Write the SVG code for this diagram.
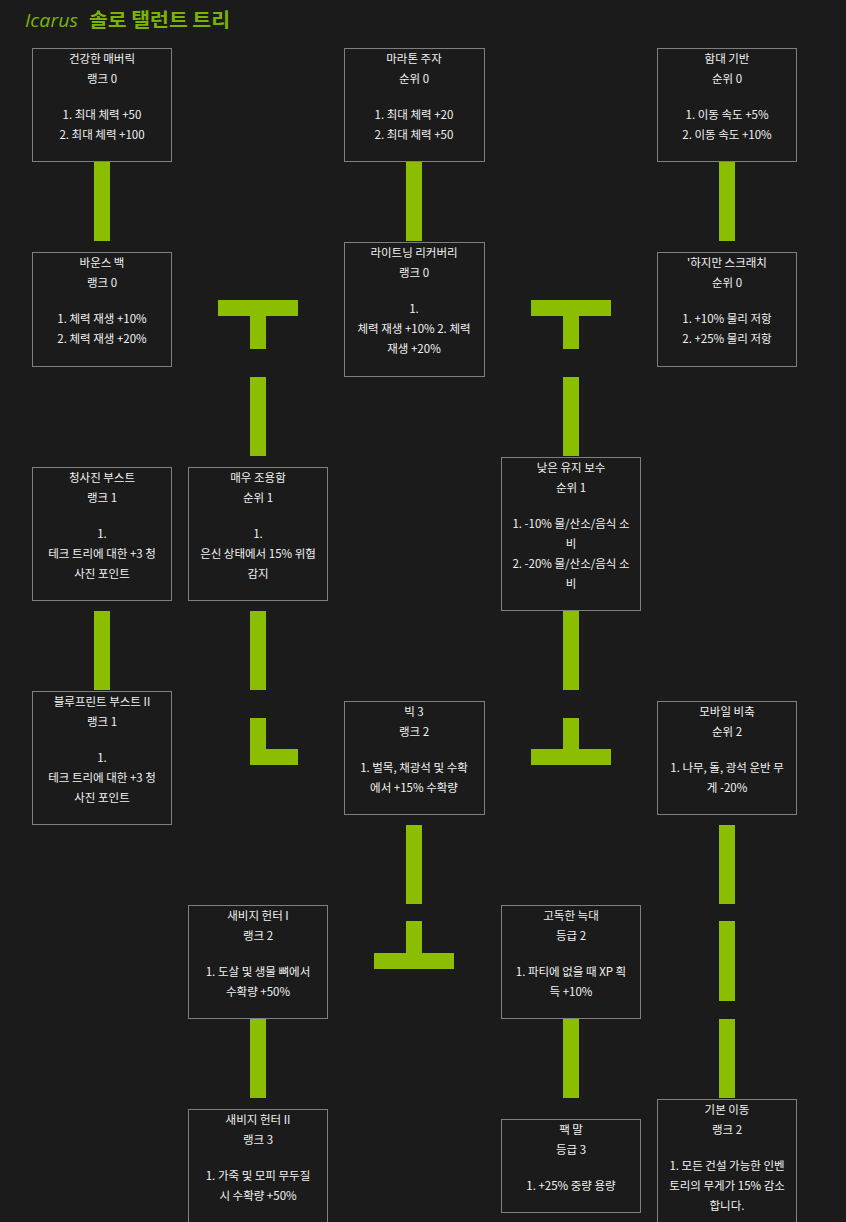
<svg xmlns="http://www.w3.org/2000/svg" width="846" height="1222" viewBox="0 0 846 1222">
<style>
.bg{fill:#1b1b1b}
.box{fill:#1b1b1b;stroke:#7f7f7f;stroke-width:1}
.t{font-family:"Noto Sans CJK KR","Noto Sans",sans-serif;font-size:11.5px;fill:#f2f2f2;text-anchor:middle}
.c rect{fill:#8cbe00}
.ttl{font-family:"Noto Sans CJK KR","Noto Sans",sans-serif;font-size:19px;font-weight:bold;fill:#7cb300}
.ic{font-family:"Open Sans","Noto Sans",sans-serif;font-size:19px;font-style:italic;font-weight:normal;fill:#7cb300}
</style>
<rect class="bg" x="0" y="0" width="846" height="1222"/>
<text class="ic" x="25" y="27" textLength="53" lengthAdjust="spacingAndGlyphs">Icarus</text>
<text class="ttl" x="89" y="27" textLength="141" lengthAdjust="spacingAndGlyphs">솔로 탤런트 트리</text>

<g id="connectors" class="c">
<rect x="94" y="161" width="16" height="80"/>
<rect x="94" y="611" width="16" height="79"/>
<rect x="218" y="300" width="80" height="16"/>
<rect x="250" y="316" width="16" height="33"/>
<rect x="250" y="377" width="16" height="79"/>
<rect x="250" y="611" width="16" height="79"/>
<rect x="250" y="718" width="16" height="47"/>
<rect x="250" y="749" width="48" height="16"/>
<rect x="250" y="1019" width="16" height="79"/>
<rect x="406" y="161" width="16" height="80"/>
<rect x="406" y="825" width="16" height="79"/>
<rect x="406" y="921" width="16" height="32"/>
<rect x="374" y="953" width="80" height="16"/>
<rect x="531" y="300" width="80" height="16"/>
<rect x="563" y="316" width="16" height="33"/>
<rect x="563" y="377" width="16" height="79"/>
<rect x="563" y="611" width="16" height="79"/>
<rect x="563" y="718" width="16" height="31"/>
<rect x="531" y="749" width="80" height="16"/>
<rect x="563" y="1019" width="16" height="79"/>
<rect x="719" y="161" width="16" height="80"/>
<rect x="719" y="825" width="16" height="79"/>
<rect x="719" y="921" width="16" height="80"/>
<rect x="719" y="1019" width="16" height="79"/>
</g>

<g id="n1"><rect class="box" x="32.5" y="48.5" width="139" height="113"/>
<text class="t" x="102" y="63">건강한 매버릭</text><text class="t" x="102" y="83">랭크 0</text>
<text class="t" x="102" y="119">1. 최대 체력 +50</text><text class="t" x="102" y="139">2. 최대 체력 +100</text></g>

<g id="n2"><rect class="box" x="344.5" y="48.5" width="140" height="113"/>
<text class="t" x="414" y="63">마라톤 주자</text><text class="t" x="414" y="83">순위 0</text>
<text class="t" x="414" y="119">1. 최대 체력 +20</text><text class="t" x="414" y="139">2. 최대 체력 +50</text></g>

<g id="n3"><rect class="box" x="657.5" y="48.5" width="139" height="113"/>
<text class="t" x="727" y="63">함대 기반</text><text class="t" x="727" y="83">순위 0</text>
<text class="t" x="727" y="119">1. 이동 속도 +5%</text><text class="t" x="727" y="139">2. 이동 속도 +10%</text></g>

<g id="n4"><rect class="box" x="32.5" y="252.5" width="139" height="114"/>
<text class="t" x="102" y="267">바운스 백</text><text class="t" x="102" y="287">랭크 0</text>
<text class="t" x="102" y="323">1. 체력 재생 +10%</text><text class="t" x="102" y="343">2. 체력 재생 +20%</text></g>

<g id="n5"><rect class="box" x="344.5" y="242.5" width="140" height="134"/>
<text class="t" x="414" y="257">라이트닝 리커버리</text><text class="t" x="414" y="277">랭크 0</text>
<text class="t" x="414" y="313">1.</text><text class="t" x="414" y="333">체력 재생 +10% 2. 체력</text><text class="t" x="414" y="353">재생 +20%</text></g>

<g id="n6"><rect class="box" x="657.5" y="252.5" width="139" height="114"/>
<text class="t" x="727" y="267">'하지만 스크래치</text><text class="t" x="727" y="287">순위 0</text>
<text class="t" x="727" y="323">1. +10% 물리 저항</text><text class="t" x="727" y="343">2. +25% 물리 저항</text></g>

<g id="n7"><rect class="box" x="32.5" y="467.5" width="139" height="133"/>
<text class="t" x="102" y="482">청사진 부스트</text><text class="t" x="102" y="502">랭크 1</text>
<text class="t" x="102" y="538">1.</text><text class="t" x="102" y="558">테크 트리에 대한 +3 청</text><text class="t" x="102" y="578">사진 포인트</text></g>

<g id="n8"><rect class="box" x="188.5" y="467.5" width="139" height="133"/>
<text class="t" x="258" y="482">매우 조용함</text><text class="t" x="258" y="502">순위 1</text>
<text class="t" x="258" y="538">1.</text><text class="t" x="258" y="558">은신 상태에서 15% 위협</text><text class="t" x="258" y="578">감지</text></g>

<g id="n9"><rect class="box" x="501.5" y="457.5" width="139" height="153"/>
<text class="t" x="571" y="472">낮은 유지 보수</text><text class="t" x="571" y="492">순위 1</text>
<text class="t" x="571" y="528">1. -10% 물/산소/음식 소</text><text class="t" x="571" y="548">비</text>
<text class="t" x="571" y="568">2. -20% 물/산소/음식 소</text><text class="t" x="571" y="588">비</text></g>

<g id="n10"><rect class="box" x="32.5" y="691.5" width="139" height="133"/>
<text class="t" x="102" y="706">블루프린트 부스트 II</text><text class="t" x="102" y="726">랭크 1</text>
<text class="t" x="102" y="762">1.</text><text class="t" x="102" y="782">테크 트리에 대한 +3 청</text><text class="t" x="102" y="802">사진 포인트</text></g>

<g id="n11"><rect class="box" x="344.5" y="701.5" width="140" height="113"/>
<text class="t" x="414" y="716">빅 3</text><text class="t" x="414" y="736">랭크 2</text>
<text class="t" x="414" y="772">1. 벌목, 채광석 및 수확</text><text class="t" x="414" y="792">에서 +15% 수확량</text></g>

<g id="n12"><rect class="box" x="657.5" y="701.5" width="139" height="113"/>
<text class="t" x="727" y="716">모바일 비축</text><text class="t" x="727" y="736">순위 2</text>
<text class="t" x="727" y="772">1. 나무, 돌, 광석 운반 무</text><text class="t" x="727" y="792">게 -20%</text></g>

<g id="n13"><rect class="box" x="188.5" y="905.5" width="139" height="113"/>
<text class="t" x="258" y="920">새비지 헌터 I</text><text class="t" x="258" y="940">랭크 2</text>
<text class="t" x="258" y="976">1. 도살 및 생물 뼈에서</text><text class="t" x="258" y="996">수확량 +50%</text></g>

<g id="n14"><rect class="box" x="501.5" y="905.5" width="139" height="113"/>
<text class="t" x="571" y="920">고독한 늑대</text><text class="t" x="571" y="940">등급 2</text>
<text class="t" x="571" y="976">1. 파티에 없을 때 XP 획</text><text class="t" x="571" y="996">득 +10%</text></g>

<g id="n15"><rect class="box" x="188.5" y="1109.5" width="139" height="113"/>
<text class="t" x="258" y="1124">새비지 헌터 II</text><text class="t" x="258" y="1144">랭크 3</text>
<text class="t" x="258" y="1180">1. 가죽 및 모피 무두질</text><text class="t" x="258" y="1200">시 수확량 +50%</text></g>

<g id="n16"><rect class="box" x="501.5" y="1119.5" width="139" height="93"/>
<text class="t" x="571" y="1134">팩 말</text><text class="t" x="571" y="1154">등급 3</text>
<text class="t" x="571" y="1190">1. +25% 중량 용량</text></g>

<g id="n17"><rect class="box" x="657.5" y="1099.5" width="139" height="133"/>
<text class="t" x="727" y="1114">기본 이동</text><text class="t" x="727" y="1134">랭크 2</text>
<text class="t" x="727" y="1170">1. 모든 건설 가능한 인벤</text><text class="t" x="727" y="1190">토리의 무게가 15% 감소</text><text class="t" x="727" y="1210">합니다.</text></g>
</svg>
